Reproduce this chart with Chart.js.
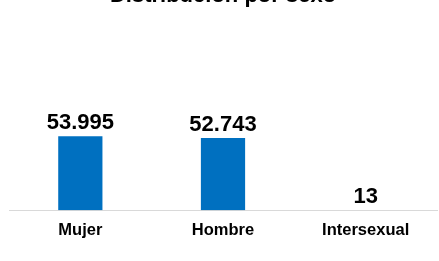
<!DOCTYPE html>
<html>
<head>
<meta charset="utf-8">
<script src="https://cdn.jsdelivr.net/npm/chart.js@4.4.1/dist/chart.umd.min.js"></script>
<style>
  html, body { margin: 0; padding: 0; background: #fff; overflow: hidden; }
  #wrap { position: absolute; left: 0; top: -21px; width: 439px; height: 282px; }
</style>
</head>
<body>
<div id="wrap"><canvas id="c" width="439" height="282"></canvas></div>
<script>
const categories = ["Mujer", "Hombre", "Intersexual"];
const values = [53995, 52743, 13];
const titleText = "Distribución por sexo";

function fmt(n) {
  return String(n).replace(/\B(?=(\d{3})+(?!\d))/g, ".");
}

const valueLabels = {
  id: 'valueLabels',
  afterDatasetsDraw(chart) {
    const ctx = chart.ctx;
    const meta = chart.getDatasetMeta(0);
    ctx.save();
    ctx.font = 'bold 22px "Liberation Sans", Arial, sans-serif';
    ctx.fillStyle = '#000';
    ctx.textAlign = 'center';
    ctx.textBaseline = 'alphabetic';
    meta.data.forEach((bar, i) => {
      ctx.fillText(fmt(values[i]), bar.x, bar.y - 7);
    });
    ctx.restore();
  }
};

new Chart(document.getElementById('c'), {
  type: 'bar',
  data: {
    labels: categories,
    datasets: [{
      data: values,
      backgroundColor: '#0070C0',
      borderWidth: 0,
      categoryPercentage: 1,
      barPercentage: 0.31
    }]
  },
  options: {
    responsive: false,
    animation: false,
    devicePixelRatio: 1,
    layout: { padding: { left: 9, right: 2, top: 0, bottom: 11 } },
    plugins: {
      legend: { display: false },
      tooltip: { enabled: false },
      title: {
        display: true,
        text: titleText,
        color: '#000',
        font: { family: '"Liberation Sans", Arial, sans-serif', size: 22, weight: 'bold', lineHeight: 1.2 },
        padding: { top: 4, bottom: 64 }
      }
    },
    scales: {
      x: {
        grid: { display: false, drawTicks: false },
        border: { display: true, color: '#d9d9d9', width: 1 },
        ticks: {
          color: '#000',
          padding: 10,
          font: { family: '"Liberation Sans", Arial, sans-serif', size: 16.5, weight: 'bold', lineHeight: 1.2 }
        }
      },
      y: {
        display: false,
        min: 0,
        max: 100000
      }
    }
  },
  plugins: [valueLabels]
});
</script>
</body>
</html>
